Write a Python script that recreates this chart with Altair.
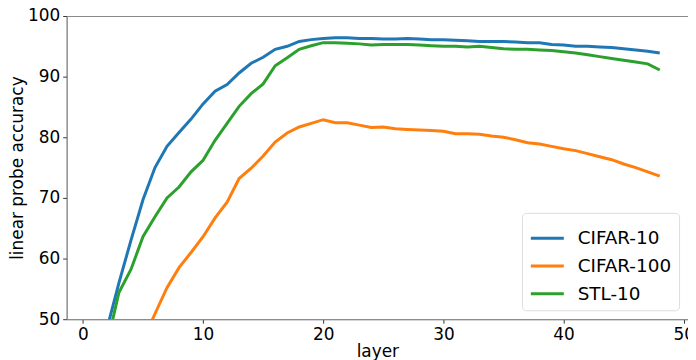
import altair as alt
import pandas as pd

layers = list(range(1, 49))

cifar10 = [42.0, 48.4, 56.0, 63.0, 69.7, 75.0, 78.5, 80.8, 83.0, 85.5,
           87.6, 88.7, 90.6, 92.2, 93.2, 94.5, 95.0, 95.8, 96.1, 96.3,
           96.4, 96.4, 96.3, 96.3, 96.2, 96.2, 96.3, 96.2, 96.1, 96.1,
           96.0, 95.9, 95.8, 95.8, 95.8, 95.7, 95.6, 95.6, 95.3, 95.2,
           95.0, 95.0, 94.9, 94.8, 94.6, 94.4, 94.2, 93.9]

cifar100 = [33.0, 36.5, 40.0, 43.5, 46.5, 50.9, 55.2, 58.5, 61.0, 63.6,
            66.7, 69.3, 73.2, 74.9, 76.9, 79.2, 80.7, 81.7, 82.3, 82.9,
            82.4, 82.4, 82.0, 81.6, 81.7, 81.4, 81.3, 81.2, 81.1, 81.0,
            80.6, 80.6, 80.5, 80.2, 80.0, 79.6, 79.1, 78.9, 78.5, 78.1,
            77.8, 77.3, 76.8, 76.3, 75.6, 75.0, 74.3, 73.6]

stl10 = [40.0, 45.8, 54.4, 58.2, 63.6, 66.9, 70.0, 71.8, 74.3, 76.2,
         79.5, 82.3, 85.1, 87.2, 88.8, 91.8, 93.1, 94.5, 95.1, 95.6,
         95.6, 95.5, 95.4, 95.2, 95.3, 95.3, 95.3, 95.2, 95.1, 95.0,
         95.0, 94.9, 95.0, 94.8, 94.6, 94.5, 94.5, 94.4, 94.3, 94.1,
         93.9, 93.6, 93.3, 93.0, 92.7, 92.4, 92.1, 91.1]

series_names = ["CIFAR-10", "CIFAR-100", "STL-10"]
series_colors = ["#1f77b4", "#ff7f0e", "#2ca02c"]
x_ticks = [0, 10, 20, 30, 40, 50]
y_ticks = [50, 60, 70, 80, 90, 100]

rows = []
for name, vals in zip(series_names, [cifar10, cifar100, stl10]):
    for l, v in zip(layers, vals):
        rows.append({"layer": l, "acc": v, "dataset": name})
df = pd.DataFrame(rows)

FONT = "DejaVu Sans"

chart = alt.Chart(df).mark_line(strokeWidth=3, clip=True).encode(
    x=alt.X("layer:Q",
            scale=alt.Scale(domain=[-1.35, 50.35], nice=False, zero=False),
            axis=alt.Axis(values=x_ticks, title="layer", grid=False,
                          labelFontSize=17, titleFontSize=17,
                          labelFont=FONT, titleFont=FONT,
                          titleFontWeight="normal", labelColor="black",
                          titleColor="black", tickColor="#333",
                          domainColor="#888", tickSize=4, labelPadding=3,
                          titlePadding=2, labelFlush=False)),
    y=alt.Y("acc:Q",
            scale=alt.Scale(domain=[50, 100], nice=False, zero=False),
            axis=alt.Axis(values=y_ticks, title="linear probe accuracy", grid=False,
                          labelFontSize=17, titleFontSize=17,
                          labelFont=FONT, titleFont=FONT,
                          titleFontWeight="normal", labelColor="black",
                          titleColor="black", tickColor="#333",
                          domainColor="#888", tickSize=4, labelPadding=3,
                          titlePadding=1, labelFlush=False)),
    color=alt.Color("dataset:N",
                    scale=alt.Scale(domain=series_names, range=series_colors),
                    legend=alt.Legend(title=None, orient="bottom-right",
                                      symbolType="stroke", symbolStrokeWidth=3,
                                      symbolSize=1100, labelFontSize=18.5,
                                      labelFont=FONT, labelColor="black",
                                      fillColor="white", strokeColor="#dddddd",
                                      cornerRadius=4, padding=7,
                                      rowPadding=0, offset=9,
                                      labelOffset=12)),
).properties(
    width=625, height=305,
    autosize=alt.AutoSizeParams(type="none"),
    padding={"left": 59, "top": 7, "right": 0, "bottom": 40},
).configure_view(stroke="#888", strokeWidth=1)

chart.save("out.html", embed_options={"renderer": "svg", "actions": False})
